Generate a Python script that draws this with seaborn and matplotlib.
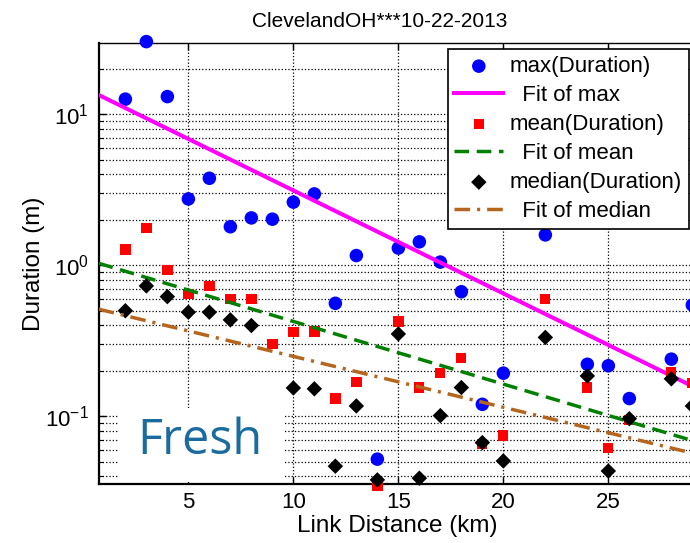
import matplotlib
matplotlib.use("Agg")
import matplotlib.pyplot as plt
from matplotlib.patches import Rectangle
from matplotlib.ticker import LogLocator, FixedLocator, NullFormatter
import seaborn as sns

# ---- data ----
dist_max = [2, 3, 4, 5, 6, 7, 8, 9, 10, 11, 12, 13, 14, 15, 16, 17, 18, 19, 20, 22, 24, 25, 26, 28, 29]
max_dur = [12.6, 30.3, 13.1, 2.75, 3.77, 1.80, 2.06, 2.02, 2.62, 2.97, 0.56, 1.16, 0.052, 1.30, 1.43,
           1.05, 0.668, 0.120, 0.193, 1.59, 0.221, 0.216, 0.131, 0.239, 0.546]
dist_mean = [2, 3, 4, 5, 6, 7, 8, 9, 10, 11, 12, 13, 14, 15, 16, 17, 18, 19, 20, 22, 24, 25, 26, 28, 29]
mean_dur = [1.27, 1.77, 0.93, 0.643, 0.733, 0.596, 0.596, 0.300, 0.360, 0.364, 0.131, 0.169, 0.0345,
            0.424, 0.155, 0.193, 0.244, 0.0653, 0.0745, 0.596, 0.155, 0.0614, 0.0945, 0.195, 0.166]
dist_median = [2, 3, 4, 5, 6, 7, 8, 10, 11, 12, 13, 14, 15, 16, 17, 18, 19, 20, 22, 24, 25, 26, 28, 29]
median_dur = [0.50, 0.73, 0.62, 0.489, 0.489, 0.435, 0.399, 0.154, 0.152, 0.0467, 0.117, 0.0379, 0.351,
              0.0389, 0.101, 0.155, 0.0669, 0.0506, 0.333, 0.185, 0.0434, 0.0964, 0.177, 0.117]

fit_x = [0.73, 29.3]
fit_max = [13.43, 0.151]
fit_mean = [1.031, 0.0671]
fit_median = [0.512, 0.0557]

x_ticks = [5, 10, 15, 20, 25]
title = "ClevelandOH***10-22-2013"
xlabel = "Link Distance (km)"
ylabel = "Duration (m)"
labels = ["max(Duration)", "  Fit of max", "mean(Duration)", "  Fit of mean",
          "median(Duration)", "  Fit of median"]
stamp = "Fresh"

# ---- style ----
plt.rcParams["font.family"] = ["Liberation Sans", "DejaVu Sans"]
plt.rcParams["mathtext.fontset"] = "custom"
plt.rcParams["mathtext.rm"] = "Liberation Sans"
plt.rcParams["mathtext.default"] = "regular"

W, H = 690, 543
fig = plt.figure(figsize=(W / 100, H / 100), dpi=100)
ax_l, ax_r, ax_t, ax_b = 98.7, 698.0, 42.7, 484.0
ax = fig.add_axes([ax_l / W, (H - ax_b) / H, (ax_r - ax_l) / W, (ax_b - ax_t) / H])
ax.set_yscale("log")

sns.scatterplot(x=dist_max, y=max_dur, marker="o", s=95, color="#0000ff", edgecolor="none",
                label=labels[0], ax=ax, zorder=3, clip_on=False)
sns.lineplot(x=fit_x, y=fit_max, color="#ff00ff", linewidth=2.9, label=labels[1], ax=ax, zorder=3)
sns.scatterplot(x=dist_mean, y=mean_dur, marker="s", s=55, color="#ff0000", edgecolor="none",
                label=labels[2], ax=ax, zorder=3, clip_on=False)
sns.lineplot(x=fit_x, y=fit_mean, color="#008000", linewidth=2.5, linestyle=(0, (4.2, 2.2)),
             label=labels[3], ax=ax, zorder=3)
sns.scatterplot(x=dist_median, y=median_dur, marker="D", s=62, color="#000000", edgecolor="none",
                label=labels[4], ax=ax, zorder=3, clip_on=False)
sns.lineplot(x=fit_x, y=fit_median, color="#b5651d", linewidth=2.5,
             linestyle=(0, (4.5, 2.0, 0.9, 2.0)), label=labels[5], ax=ax, zorder=3)

ax.set_xlim(0.73, 29.27)
ax.set_ylim(0.0356, 29.8)
ax.xaxis.set_major_locator(FixedLocator(x_ticks))
ax.yaxis.set_major_locator(LogLocator(base=10))
ax.yaxis.set_minor_locator(LogLocator(base=10, subs=range(2, 10)))
ax.yaxis.set_minor_formatter(NullFormatter())

ax.set_axisbelow(True)
ax.grid(True, which="major", axis="both", linestyle=":", color="black", linewidth=0.9)
ax.grid(True, which="minor", axis="y", linestyle=":", color="black", linewidth=0.9)
ax.tick_params(which="both", direction="in", top=True, right=True, colors="black")
ax.tick_params(which="major", length=5, width=1.0, labelsize=16)
ax.tick_params(which="minor", length=3, width=0.8)
ax.tick_params(axis="x", which="major", pad=6)
ax.tick_params(axis="y", which="major", pad=7)
for side in ["left", "bottom"]:
    ax.spines[side].set_linewidth(1.6)
    ax.spines[side].set_color("black")
ax.spines["top"].set_linewidth(1.0)
ax.spines["right"].set_linewidth(1.0)

ax.set_xlabel(xlabel, fontsize=17.5)
ax.set_ylabel(ylabel, fontsize=17.5)
ax.xaxis.set_label_coords((397 - ax_l) / (ax_r - ax_l), -0.07)
ax.yaxis.set_label_coords((45 - ax_l) / (ax_r - ax_l), 0.5)

fig.text(380 / W, (H - 26.7) / H, title, ha="center", va="baseline", fontsize=15)

# white box with the stamp text
box = Rectangle(((118 - ax_l) / (ax_r - ax_l), 0.004), (283 - 118) / (ax_r - ax_l),
                (484 - 410) / (ax_b - ax_t), transform=ax.transAxes, facecolor="white",
                edgecolor="none", zorder=4)
ax.add_patch(box)
ax.text((200 - ax_l) / (ax_r - ax_l), (ax_b - 441.5) / (ax_b - ax_t), stamp,
        transform=ax.transAxes, ha="center", va="center", fontsize=35, color="#1a6b9e",
        family=["Open Sans", "DejaVu Sans"], zorder=5)

handles, labs = ax.get_legend_handles_labels()
order = [labs.index(l) for l in labels]
leg = ax.legend([handles[i] for i in order], [labs[i] for i in order],
                loc="upper left", bbox_to_anchor=(447.7 / W, (H - 49.3) / H),
                bbox_transform=fig.transFigure, fontsize=16, frameon=True, fancybox=False,
                framealpha=1, edgecolor="black", borderpad=0.3, labelspacing=0.36,
                handlelength=2.2, handletextpad=0.3, borderaxespad=0)
leg.get_frame().set_linewidth(1.2)
leg.set_zorder(6)

fig.savefig("out.png", dpi=100)
